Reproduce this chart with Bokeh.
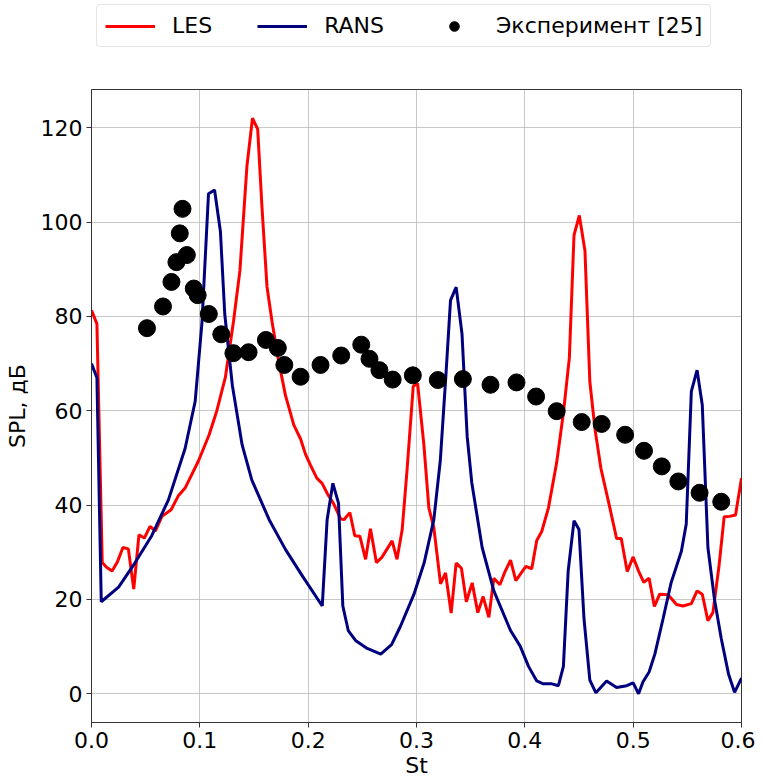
from bokeh.plotting import figure
from bokeh.layouts import column
from bokeh.models import Range1d, Legend, LegendItem, FixedTicker
from bokeh.embed import file_html
from bokeh.resources import INLINE

les_st = [0.0, 0.005, 0.0099, 0.0139, 0.019, 0.024, 0.029, 0.034, 0.039, 0.0438, 0.0488, 0.054, 0.059,
          0.065, 0.0735, 0.080, 0.0864, 0.0988, 0.1086, 0.1157, 0.1235, 0.131, 0.137, 0.1435, 0.1486,
          0.1534, 0.1574, 0.162, 0.1667, 0.1728, 0.179, 0.1867, 0.193, 0.1975, 0.202, 0.208, 0.2129,
          0.218, 0.2237, 0.2298, 0.233, 0.2385, 0.243, 0.2477, 0.253, 0.2575, 0.263, 0.268, 0.2775,
          0.282, 0.2868, 0.2914, 0.297, 0.301, 0.3068, 0.3114, 0.316, 0.3222, 0.3268, 0.332, 0.3366,
          0.3415, 0.346, 0.3514, 0.3566, 0.3615, 0.3668, 0.3714, 0.377, 0.3812, 0.3868, 0.3917, 0.4009,
          0.4064, 0.411, 0.4156, 0.4218, 0.4294, 0.4356, 0.4411, 0.4454, 0.4503, 0.4555, 0.460, 0.4647,
          0.4702, 0.4785, 0.4847, 0.489, 0.4945, 0.500, 0.505, 0.5098, 0.5147, 0.5196, 0.5245, 0.5322,
          0.540, 0.546, 0.5537, 0.559, 0.5638, 0.569, 0.5736, 0.5791, 0.584, 0.589, 0.5945, 0.600]
les_spl = [81.3, 78.4, 27.8, 26.8, 26.0, 28.0, 31.0, 30.7, 22.2, 33.7, 33.0, 35.5, 34.5,
           37.6, 39.0, 41.9, 43.6, 49.4, 54.9, 60.0, 67.0, 78.8, 89.7, 111.9, 122.0,
           119.7, 103.0, 86.3, 78.8, 70.4, 63.3, 57.0, 54.0, 50.8, 48.5, 45.7, 44.6,
           42.3, 40.2, 37.1, 36.9, 38.4, 33.5, 33.4, 28.5, 35.0, 27.8, 28.9, 32.4,
           28.5, 34.8, 47.8, 65.2, 65.8, 52.8, 39.4, 35.2, 23.3, 25.6, 17.1, 27.7,
           26.6, 19.5, 23.5, 17.2, 20.6, 16.2, 24.5, 23.1, 25.6, 28.3, 24.0, 27.0,
           26.5, 32.5, 34.4, 39.4, 49.0, 59.5, 71.2, 97.2, 101.4, 93.9, 66.2, 56.2,
           47.8, 39.4, 32.9, 32.9, 25.9, 29.0, 26.0, 23.6, 24.5, 18.5, 21.1, 21.0,
           18.9, 18.6, 19.1, 21.8, 21.1, 15.5, 17.2, 26.8, 37.5, 37.6, 37.9, 45.7]

rans_st = [0.0, 0.005, 0.009, 0.025, 0.040, 0.0556, 0.071, 0.0864, 0.0957, 0.102, 0.108, 0.1136,
           0.119, 0.123, 0.130, 0.139, 0.148, 0.164, 0.179, 0.194, 0.213, 0.2175, 0.2228, 0.228,
           0.232, 0.237, 0.2437, 0.2545, 0.267, 0.277, 0.285, 0.2975, 0.307, 0.316, 0.322, 0.327,
           0.3314, 0.3366, 0.342, 0.3468, 0.351, 0.3606, 0.3714, 0.3868, 0.3957, 0.4034, 0.411,
           0.417, 0.425, 0.431, 0.4356, 0.440, 0.4454, 0.450, 0.4546, 0.460, 0.4656, 0.4755,
           0.4847, 0.494, 0.500, 0.505, 0.509, 0.5147, 0.520, 0.5276, 0.535, 0.5445, 0.549,
           0.5537, 0.559, 0.5638, 0.569, 0.575, 0.5813, 0.588, 0.5936, 0.600]
rans_spl = [70.0, 67.0, 19.5, 22.6, 27.7, 33.5, 41.1, 52.0, 62.0, 78.8, 106.0, 106.8,
            98.0, 80.5, 65.4, 52.8, 45.3, 36.9, 30.6, 25.2, 18.6, 36.9, 44.6, 40.4,
            18.6, 13.4, 11.3, 9.6, 8.4, 10.4, 14.2, 21.0, 27.7, 36.9, 49.5, 67.0,
            83.4, 86.2, 76.3, 54.5, 44.8, 31.0, 21.8, 13.4, 10.1, 5.8, 2.7,
            2.1, 2.1, 1.7, 5.8, 26.0, 36.7, 34.8, 15.9, 2.9, 0.2, 2.7,
            1.3, 1.7, 2.3, 0.0, 2.5, 4.6, 8.4, 15.9, 23.5, 30.2, 36.0,
            64.1, 68.6, 61.2, 31.0, 20.1, 11.7, 4.2, 0.3, 3.3]

exp_st = [0.0512, 0.066, 0.0738, 0.0784, 0.0815, 0.084, 0.088, 0.0944, 0.098, 0.1083, 0.1198, 0.131,
          0.145, 0.161, 0.172, 0.178, 0.193, 0.2114, 0.2305, 0.249, 0.2566, 0.2658, 0.278, 0.2966,
          0.3197, 0.3428, 0.3683, 0.3923, 0.4104, 0.4294, 0.4525, 0.4709, 0.4926, 0.510, 0.5264,
          0.5417, 0.5613, 0.5813]
exp_spl = [77.5, 82.1, 87.3, 91.5, 97.6, 102.8, 93.0, 85.9, 84.5, 80.5, 76.2, 72.2,
           72.4, 75.0, 73.3, 69.7, 67.2, 69.7, 71.7, 74.0, 71.0, 68.6, 66.6, 67.5,
           66.5, 66.7, 65.5, 66.0, 63.0, 59.9, 57.6, 57.2, 54.9, 51.5, 48.2,
           45.0, 42.6, 40.7]

x_ticks = [0.0, 0.1, 0.2, 0.3, 0.4, 0.5, 0.6]
y_ticks = [0, 20, 40, 60, 80, 100, 120]
series_labels = ["LES", "RANS", "Эксперимент [25]"]

FONT = "DejaVu Sans"
LES_COLOR = "red"
RANS_COLOR = "#00007f"


def draw_series(fig):
    a = fig.line(les_st, les_spl, line_color=LES_COLOR, line_width=3)
    b = fig.line(rans_st, rans_spl, line_color=RANS_COLOR, line_width=3)
    c = fig.scatter(exp_st, exp_spl, size=17, fill_color="black", line_color="black")
    return [a, b, c]


# main plot
p = figure(frame_width=650, frame_height=633, output_backend="svg", toolbar_location=None,
           x_range=Range1d(0.0, 0.6), y_range=Range1d(-6.1, 128.1),
           min_border_left=91, min_border_right=14, min_border_top=1, min_border_bottom=53)
draw_series(p)

p.xaxis.ticker = FixedTicker(ticks=x_ticks)
p.yaxis.ticker = FixedTicker(ticks=y_ticks)
p.xaxis.major_label_overrides = {t: f"{t:.1f}" for t in x_ticks}

for ax in (p.xaxis[0], p.yaxis[0]):
    ax.major_label_text_font = FONT
    ax.major_label_text_font_size = "22px"
    ax.major_label_text_color = "black"
    ax.axis_label_text_font = FONT
    ax.axis_label_text_font_size = "22px"
    ax.axis_label_text_font_style = "normal"
    ax.axis_label_text_color = "black"
    ax.axis_line_color = "#333333"
    ax.major_tick_line_color = "#333333"
    ax.major_tick_out = 5
    ax.major_tick_in = 0
    ax.minor_tick_line_color = None
    ax.major_label_standoff = 4

p.xaxis.axis_label = "St"
p.yaxis.axis_label = "SPL, дБ"
p.yaxis.axis_label_standoff = 8
p.xaxis.axis_label_standoff = 2

p.xgrid.ticker = FixedTicker(ticks=x_ticks)
p.ygrid.ticker = FixedTicker(ticks=y_ticks)
p.grid.grid_line_color = "#b0b0b0"
p.grid.grid_line_alpha = 0.7
p.grid.grid_line_width = 1

p.outline_line_color = "#333333"
p.outline_line_width = 1
p.background_fill_color = "white"
p.border_fill_color = "white"

# legend strip above the plot (series drawn off-range, only their legend glyphs show)
lf = figure(width=755, height=88, output_backend="svg", toolbar_location=None,
            x_range=Range1d(10, 11), y_range=Range1d(1000, 1001),
            min_border_left=0, min_border_right=0, min_border_top=0, min_border_bottom=0)
lf.xaxis.visible = False
lf.yaxis.visible = False
lf.grid.visible = False
lf.outline_line_color = None
lf.border_fill_color = "white"
lf_r = draw_series(lf)

legend = Legend(items=[LegendItem(label=lab, renderers=[r]) for lab, r in zip(series_labels, lf_r)],
                orientation="horizontal", location=(5, 41))
legend.label_text_font = FONT
legend.label_text_font_size = "22px"
legend.label_text_color = "black"
legend.glyph_width = 50
legend.glyph_height = 24
legend.label_standoff = 17
legend.spacing = 45
legend.padding = 8
legend.margin = 0
legend.border_line_color = "#cccccc"
legend.border_line_width = 1
legend.border_radius = 4
legend.background_fill_alpha = 1.0
lf.add_layout(legend, "center")

layout = column(lf, p, spacing=0)
open("out.html", "w").write(file_html(layout, INLINE))
